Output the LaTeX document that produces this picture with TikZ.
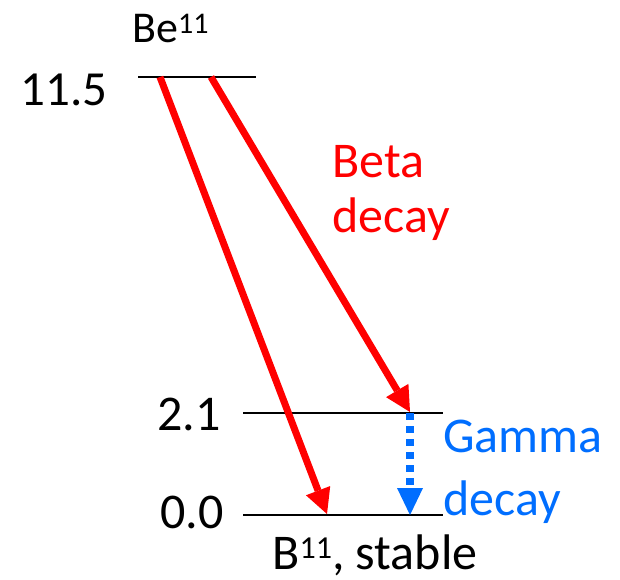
\documentclass[tikz,border=0pt]{standalone}
\usepackage{fontspec}
\setmainfont{Carlito}
\usetikzlibrary{arrows.meta}
\definecolor{gblue}{RGB}{0,110,255}
\begin{document}
\begin{tikzpicture}[x=0.5pt,y=-0.5pt,
  level/.style={line width=1pt,black},
  lbl/.style={inner sep=0pt,anchor=base west,font=\fontsize{25}{30}\selectfont},
  num/.style={inner sep=0pt,anchor=base east,font=\fontsize{25}{30}\selectfont},
  betaarrow/.style={red,line width=3.5pt,-{Triangle[width=13pt,length=12.5pt,line width=0pt]}},
  gammaarrow/.style={gblue,line width=4pt,dash pattern=on 3.5pt off 3pt,-{Triangle[width=13pt,length=13.5pt,line width=0pt]}}]
\useasboundingbox (0,0) rectangle (620,579);
% level lines
\coordinate (topL) at (138,77);
\coordinate (topR) at (256,77);
\coordinate (midL) at (243,413);
\coordinate (midR) at (443,413);
\coordinate (botL) at (243,515);
\coordinate (botR) at (443,515);
\draw[level] (topL) -- (topR);
\draw[level] (midL) -- (midR);
\draw[level] (botL) -- (botR);
% arrow end points
\coordinate (s1) at (160,77);
\coordinate (e1) at (327,514);
\coordinate (s2) at (211,77);
\coordinate (e2) at (410,412);
\coordinate (g1) at (410,413);
\coordinate (g2) at (410,515);
\draw[betaarrow] (s1) -- (e1);
\draw[betaarrow] (s2) -- (e2);
\draw[gammaarrow] (g1) -- (g2);
% labels
\node[lbl,font=\fontsize{22}{26}\selectfont] (be) at (132,42) {Be\raisebox{4.4pt}{\fontsize{15}{18}\selectfont 11}};
\node[num,font=\fontsize{24.5}{30}\selectfont] (n115) at (108,105) {11.5};
\node[num] (n21) at (221,430) {2.1};
\node[num] (n00) at (224,528) {0.0};
\node[lbl,text=red] (beta1) at (332,177) {Beta};
\node[lbl,text=red] (beta2) at (332,232) {decay};
\node[lbl,text=gblue] (gam1) at (443,452) {Gamma};
\node[lbl,text=gblue] (gam2) at (443,515) {decay};
\node[lbl,text depth=2pt] (bstab) at (272,569) {B\raisebox{5.5pt}{\fontsize{16}{19}\selectfont 11}, stable};
\end{tikzpicture}
\end{document}
